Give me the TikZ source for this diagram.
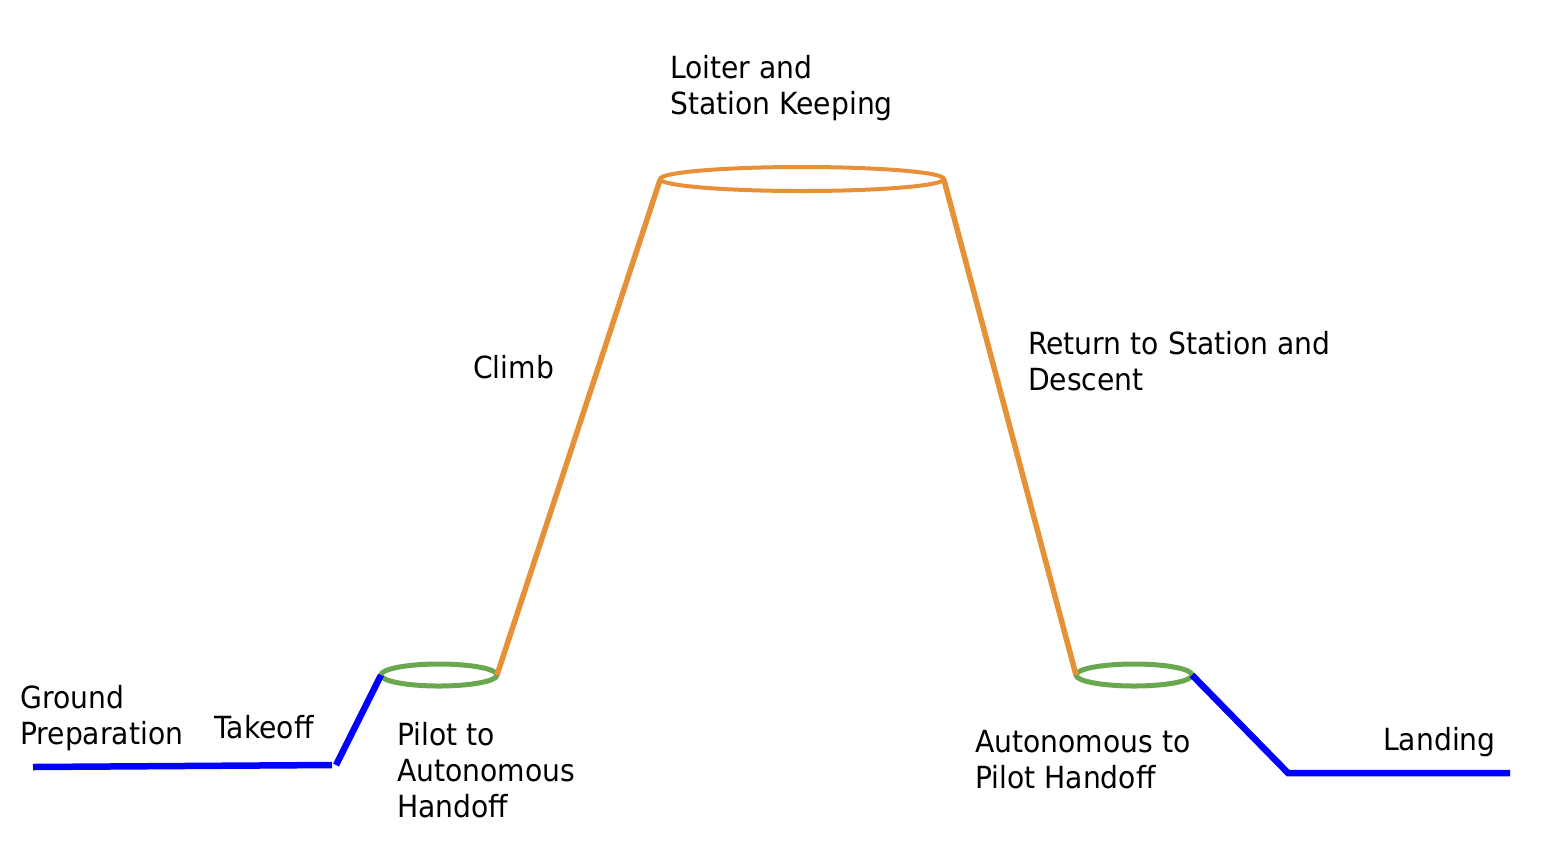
\documentclass[tikz,border=0pt]{standalone}
\usepackage{fontspec}
\setmainfont{DejaVu Sans}[FakeStretch=0.925]
\usepackage{tikz}

\definecolor{flightblue}{RGB}{0,0,255}
\definecolor{flightorange}{RGB}{232,144,56}
\definecolor{flightgreen}{RGB}{106,168,79}

\tikzset{
  phase/.style={anchor=base west, inner sep=0pt, align=left, font=\fontsize{30.5}{36}\selectfont},
  groundleg/.style={draw=flightblue, line width=6.5pt},
  cruiseleg/.style={draw=flightorange, line width=5.5pt},
  handoff/.style={draw=flightgreen, line width=5pt}
}

\begin{document}
\begin{tikzpicture}[x=1pt,y=1pt,yscale=-1,xscale=1]
\useasboundingbox (0,0) rectangle (1565,855);

%Shape: Ellipse [id:loiter]
\draw [cruiseleg, line width=4pt] (802,179) ellipse (142 and 12);
%Shape: Ellipse [id:handoff1]
\draw [handoff] (439,675) ellipse (58 and 11);
%Shape: Ellipse [id:handoff2]
\draw [handoff] (1134,675) ellipse (58 and 11);

\coordinate (groundstart) at (33,767);
\coordinate (groundend) at (332,765);
\coordinate (liftoff) at (336,765);
\coordinate (hoa) at (381,675);
\coordinate (hob) at (497,675);
\coordinate (topa) at (660,180);
\coordinate (topb) at (944,180);
\coordinate (hoc) at (1076,675);
\coordinate (hod) at (1192,675);
\coordinate (touchdown) at (1288,773);
\coordinate (landend) at (1510,773);

%Straight Lines [id:ground]
\draw [groundleg] (groundstart) -- (groundend);
%Straight Lines [id:takeoff]
\draw [groundleg] (liftoff) -- (hoa);
%Straight Lines [id:climb]
\draw [cruiseleg] (hob) -- (topa);
%Straight Lines [id:descent]
\draw [cruiseleg] (topb) -- (hoc);
%Straight Lines [id:landing]
\draw [groundleg] (hod) -- (touchdown) -- (landend);

% Text Node (base is on the last line)
\node (loiter) at (670,114) [phase] {Loiter and\\Station Keeping};
% Text Node
\node (climb) at (473,378) [phase] {Climb};
% Text Node
\node (return) at (1028,390) [phase] {Return to Station and\\Descent};
% Text Node
\node (ground) at (20,744) [phase] {Ground\\Preparation};
% Text Node
\node (takeoff) at (214,738) [phase] {Takeoff};
% Text Node
\node (pilotauto) at (397,817) [phase] {Pilot to\\Autonomous\\Handoff};
% Text Node
\node (autopilot) at (975,788) [phase] {Autonomous to\\Pilot Handoff};
% Text Node
\node (land) at (1383,750) [phase] {Landing};

\end{tikzpicture}
\end{document}
